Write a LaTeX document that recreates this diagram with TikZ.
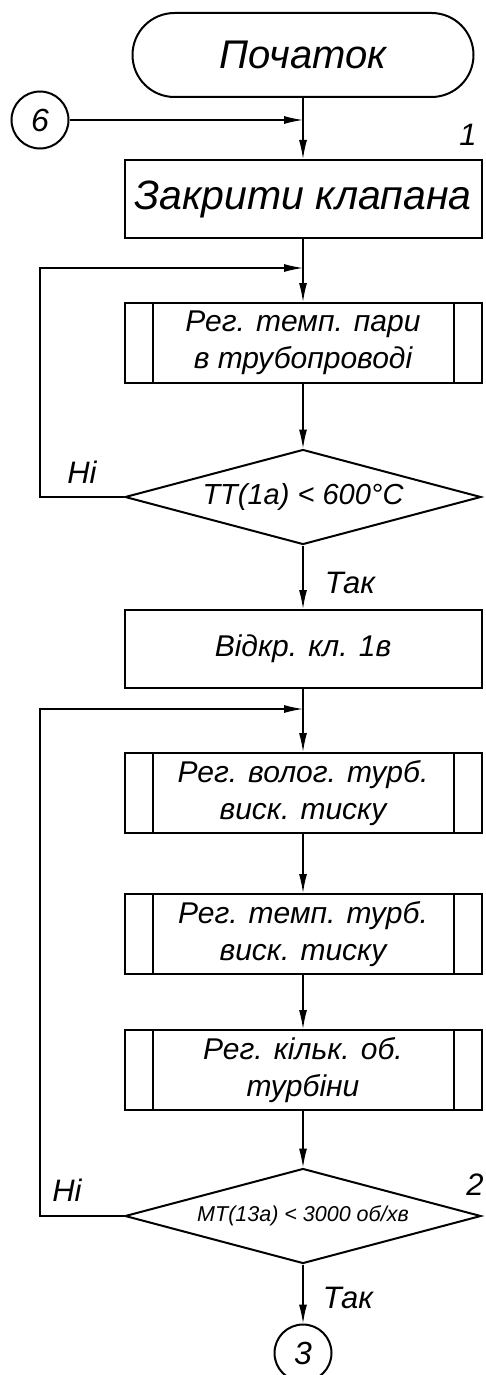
\documentclass[tikz,border=0pt]{standalone}
\usepackage{fontspec}
\setmainfont{Liberation Sans}
\usetikzlibrary{positioning, shapes.geometric, arrows.meta}

\begin{document}
\begin{tikzpicture}[x=1pt, y=-1pt, node distance=144pt, on grid, line width=1.3pt,
			arr/.style={-{Latex[length=19pt, width=8pt]}},
			proc/.style={draw, line width=2pt, minimum width=357pt, minimum height=78pt, inner sep=0pt, align=center, font=\itshape\fontsize{30}{37}\selectfont},
			subproc/.style={proc, minimum height=80pt, path picture={
				\draw[line width=2pt] ([xshift=28pt]path picture bounding box.north west) -- ([xshift=28pt]path picture bounding box.south west)
				([xshift=-28pt]path picture bounding box.north east) -- ([xshift=-28pt]path picture bounding box.south east);}},
			term/.style={proc, rounded corners=42pt, minimum width=341pt, minimum height=84pt, font=\itshape\fontsize{40}{48}\selectfont},
			dec/.style={diamond, draw, line width=2pt, minimum width=356pt, minimum height=95pt, inner sep=0pt, aspect=3.7, font=\itshape\fontsize{29}{35}\selectfont},
			conn/.style={circle, draw, line width=2pt, minimum size=57pt, inner sep=0pt, font=\itshape\fontsize{32}{38}\selectfont},
			lbl/.style={inner sep=0pt, font=\itshape\fontsize{31}{36}\selectfont}]
			\useasboundingbox (0,0) rectangle (485,1375);

			\node[term] (0) at (303,55) {Початок};
			\node[proc, below=144pt of 0, font=\itshape\fontsize{41}{48}\selectfont] (1) {Закрити клапана};
			\node[subproc, below=144pt of 1] (2) {Рег. темп. пари\\в трубопроводі};
			\node[dec, below=154pt of 2] (3) {ТТ(1а) < 600°С};
			\node[proc, below=152pt of 3] (4) {Відкр. кл. 1в};
			\node[subproc, below=144pt of 4] (5) {Рег. волог. турб.\\виск. тиску};
			\node[subproc, below=141pt of 5] (6) {Рег. темп. турб.\\виск. тиску};
			\node[subproc, below=136pt of 6] (7) {Рег. кільк. об.\\турбіни};
			\node[dec, below=146pt of 7, font=\itshape\fontsize{21.5}{26}\selectfont] (8) {МТ(13а) < 3000 об/хв};
			\node[conn, below=137pt of 8] (9) {3};
			\node[conn] (10) at (40,120) {6};

			% labels
			\node[lbl] (n1) at (468,135) {1};
			\node[lbl] (n2) at (475,1185) {2};
			\node[lbl] (no1) at (82,472) {Ні};
			\node[lbl] (no2) at (67,1190) {Ні};
			\node[lbl] (yes1) at (350,583) {Так};
			\node[lbl] (yes2) at (348,1298) {Так};

			% junctions
			\coordinate (a) at (0.south |- 10);
			\coordinate[below=29pt of 1.south] (b);
			\coordinate[below=20pt of 4.south] (c);

			\draw (0) -- (a);
			\draw[arr] (10) -- (a);
			\draw[arr] (a) -- (1);
			\draw (1) -- (b);
			\draw[arr] (b) -- (2);
			\draw[arr] (2) -- (3);
			\draw[arr] (3.west) -- (3.west -| 10) |- (b);
			\draw[arr] (3) -- (4);
			\draw (4) -- (c);
			\draw[arr] (c) -- (5);
			\draw[arr] (5) -- (6);
			\draw[arr] (6) -- (7);
			\draw[arr] (7) -- (8);
			\draw[arr] (8.west) -- (8.west -| 10) |- (c);
			\draw[arr] (8) -- (9);

		\end{tikzpicture}
\end{document}
